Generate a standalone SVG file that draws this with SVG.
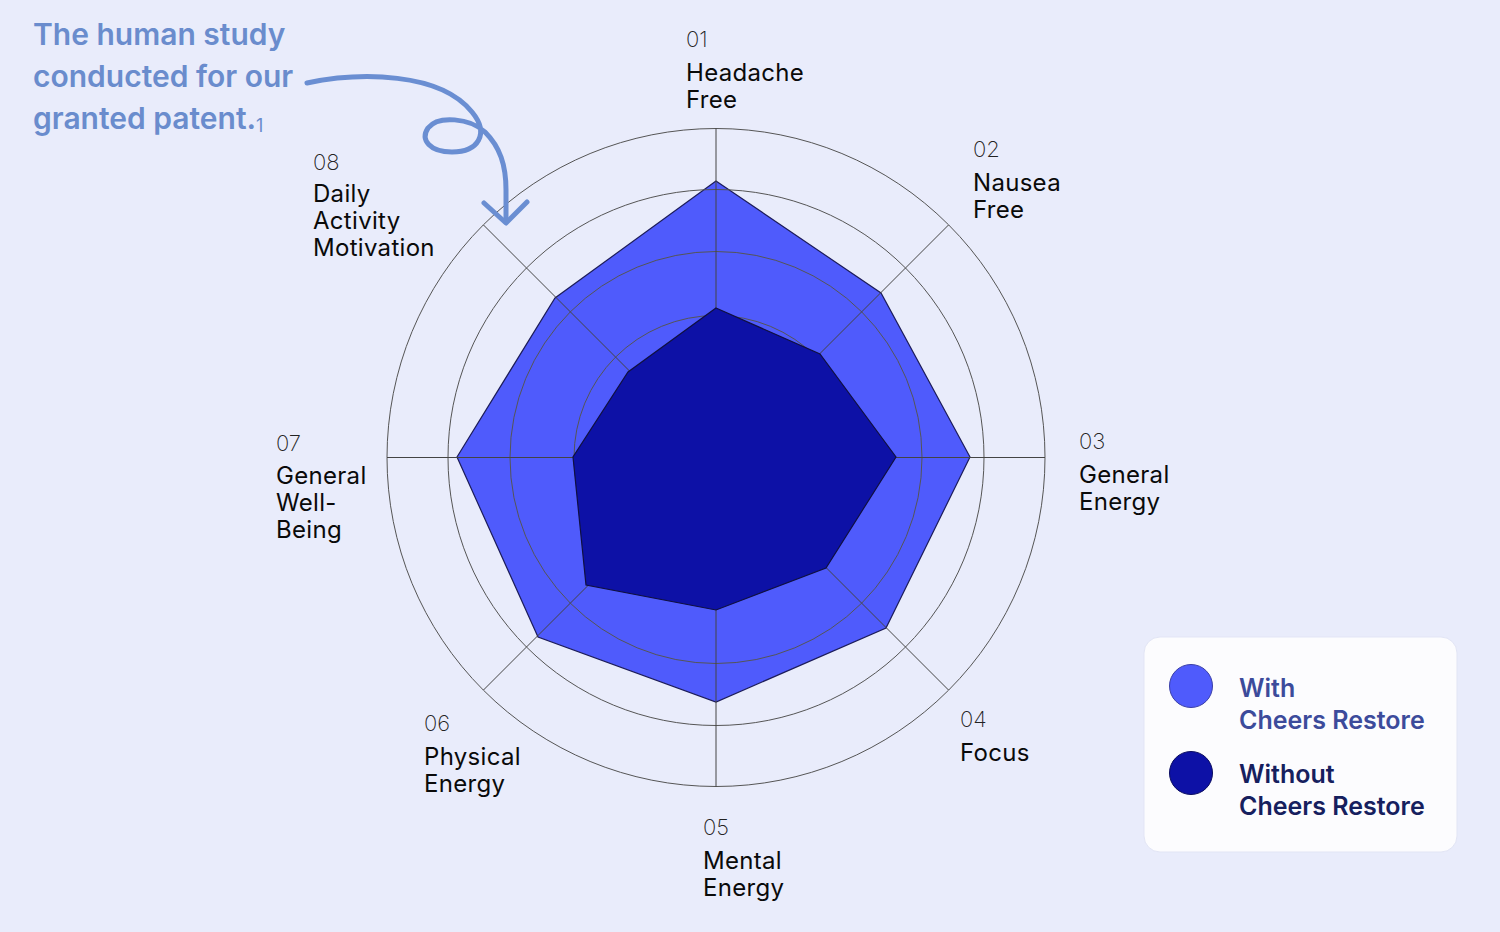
<svg xmlns="http://www.w3.org/2000/svg" width="1500" height="932" viewBox="0 0 1500 932">
<style>
.num{font-family:Inter,"Noto Sans",sans-serif;font-weight:200;font-size:22px;fill:#222}
.lbl{font-family:Inter,"Noto Sans",sans-serif;font-weight:400;font-size:24px;letter-spacing:0.3px;fill:#0a0a0a}
.title{font-family:Inter,"Noto Sans",sans-serif;font-weight:600;font-size:30px;fill:#6a8ccd}
.leg{font-family:Inter,"Noto Sans",sans-serif;font-weight:600;font-size:25px}
.ring{fill:none;stroke:#555;stroke-width:1}
.axis{stroke:#444;stroke-width:1}
</style>
<rect width="1500" height="932" fill="#e9ecfb"/>
<g id="title">
<text class="title" x="33" y="45">The human study</text>
<text class="title" x="33" y="87">conducted for our</text>
<text class="title" x="33" y="129">granted patent.<tspan font-size="18" font-weight="400" dy="3">1</tspan></text>
</g>
<g id="series-with">
<polygon points="716,181 881,293 970,457 886,628 716,702 538,637 457,457 555,298" fill="#4f5bfc" stroke="#1c1c5a" stroke-width="1.2"/>
</g>
<g id="grid">
<circle class="ring" cx="716" cy="457.5" r="329"/>
<circle class="ring" cx="716" cy="457.5" r="268"/>
<circle class="ring" cx="716" cy="457.5" r="206"/>
<circle class="ring" cx="716" cy="457.5" r="142"/>
<line class="axis" x1="716" y1="457.5" x2="716" y2="128.5"/>
<line class="axis" x1="716" y1="457.5" x2="716" y2="786.5"/>
<line class="axis" x1="716" y1="457.5" x2="1045" y2="457.5"/>
<line class="axis" x1="716" y1="457.5" x2="387" y2="457.5"/>
<line class="axis" x1="716" y1="457.5" x2="948.6" y2="224.9"/>
<line class="axis" x1="716" y1="457.5" x2="948.6" y2="690.1"/>
<line class="axis" x1="716" y1="457.5" x2="483.4" y2="690.1"/>
<line class="axis" x1="716" y1="457.5" x2="483.4" y2="224.9"/>
</g>
<g id="series-without">
<polygon points="716,308 820,354 896,457 826,568 716,610 586,585 573,457 628,372" fill="#0d11a6" stroke="#101040" stroke-width="1.2"/>
</g>
<g id="labels">
<g id="axis-01"><text class="num" x="686" y="47">01</text><text class="lbl" x="686" y="81">Headache</text><text class="lbl" x="686" y="108">Free</text></g>
<g id="axis-02"><text class="num" x="973" y="157">02</text><text class="lbl" x="973" y="191">Nausea</text><text class="lbl" x="973" y="218">Free</text></g>
<g id="axis-03"><text class="num" x="1079" y="449">03</text><text class="lbl" x="1079" y="483">General</text><text class="lbl" x="1079" y="510">Energy</text></g>
<g id="axis-04"><text class="num" x="960" y="727">04</text><text class="lbl" x="960" y="761">Focus</text></g>
<g id="axis-05"><text class="num" x="703" y="835">05</text><text class="lbl" x="703" y="869">Mental</text><text class="lbl" x="703" y="896">Energy</text></g>
<g id="axis-06"><text class="num" x="424" y="731">06</text><text class="lbl" x="424" y="765">Physical</text><text class="lbl" x="424" y="792">Energy</text></g>
<g id="axis-07"><text class="num" x="276" y="451">07</text><text class="lbl" x="276" y="484">General</text><text class="lbl" x="276" y="511">Well-</text><text class="lbl" x="276" y="538">Being</text></g>
<g id="axis-08"><text class="num" x="313" y="170">08</text><text class="lbl" x="313" y="202">Daily</text><text class="lbl" x="313" y="229">Activity</text><text class="lbl" x="313" y="256">Motivation</text></g>
</g>
<g id="connectors">
<path d="M307,83 C360,72 440,72 472,112 C490,134 478,152 452,152 C430,152 420,140 428,128 C438,115 470,118 485,132 C500,147 506,165 506,190 L506,222" fill="none" stroke="#6a8ed2" stroke-width="5" stroke-linecap="round" stroke-linejoin="round"/>
<path d="M484,203 L506,223 L527,202" fill="none" stroke="#6a8ed2" stroke-width="5" stroke-linecap="round" stroke-linejoin="round"/>
</g>
<g id="legend">
<rect x="1144" y="637" width="313" height="215" rx="16" fill="#fcfcfe" stroke="#e2e5f5" stroke-width="1"/>
<circle cx="1191" cy="686" r="21.5" fill="#4f5bfc" stroke="#3a3fa8" stroke-width="1"/>
<circle cx="1191" cy="773" r="21.5" fill="#0d11a6" stroke="#0a0c60" stroke-width="1"/>
<text class="leg" x="1239" y="697" fill="#3c4b9b">With</text>
<text class="leg" x="1239" y="729" fill="#3c4b9b">Cheers Restore</text>
<text class="leg" x="1239" y="783" fill="#16205e">Without</text>
<text class="leg" x="1239" y="815" fill="#16205e">Cheers Restore</text>
</g>
</svg>
